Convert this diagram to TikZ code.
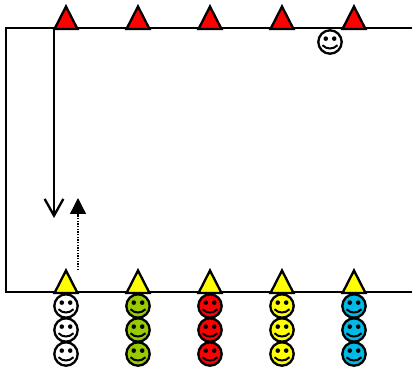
\documentclass[tikz,border=0pt]{standalone}
\usepackage{tikz}
\usetikzlibrary{arrows.meta}

\tikzset{
	court/.style={line width=1.75pt},
	pics/cone/.style={code={
		\draw[line width=1.75pt, line join=miter, fill=#1] (-11.5,0) -- (0,-22.5) -- (11.5,0) -- cycle;
	}},
	pics/smiley/.style={code={
		\draw[line width=1.75pt, fill=#1] (0,0) circle (11.7);
		\fill (-4.2,-3.4) circle (2.3);
		\fill (4.2,-3.4) circle (2.3);
		\draw[line width=1.5pt] (-7.5,3.2) .. controls (-3.5,7.6) and (3.5,7.6) .. (7.5,3.2);
	}},
}

\definecolor{conered}{RGB}{255,0,0}
\definecolor{coneyellow}{RGB}{255,255,0}
\definecolor{facegreen}{RGB}{153,204,0}
\definecolor{faceblue}{RGB}{0,186,230}

\begin{document}
\begin{tikzpicture}[x=0.75pt,y=-0.75pt]

	% bounding box
	\useasboundingbox (0,0) rectangle (412,371);

	% coordinates
	\coordinate (TL) at (6,28);
	\coordinate (TR) at (412,28);
	\coordinate (BL) at (6,292);
	\coordinate (BR) at (412,292);
	\coordinate (A) at (54,28);
	\coordinate (B) at (54,218);
	\coordinate (C) at (78,270);
	\coordinate (D) at (78,198);

	% court lines
	\draw[court] (TR) -- (TL) -- (BL) -- (BR);

	% long run
	\draw[court, -{Straight Barb[length=12.5pt, width=14pt, line width=1.75pt]}] (A) -- (B);

	% dotted run
	\draw[line width=1pt, densely dotted, -{Triangle[length=12pt, width=12pt]}] (C) -- (D);

	% cones
	\foreach \i in {0,...,4} {
		\pic at ({66+72*\i},29) {cone=conered};
		\pic at ({66+72*\i},293) {cone=coneyellow};
	}

	% lines of players
	\foreach \x/\col in {66/white,138/facegreen,210/red,282/coneyellow,354/faceblue} {
		\foreach \y in {306,330,354} {
			\pic at (\x,\y) {smiley=\col};
		}
	}

	% player on the top line
	\pic at (330,42) {smiley=white};

\end{tikzpicture}
\end{document}
